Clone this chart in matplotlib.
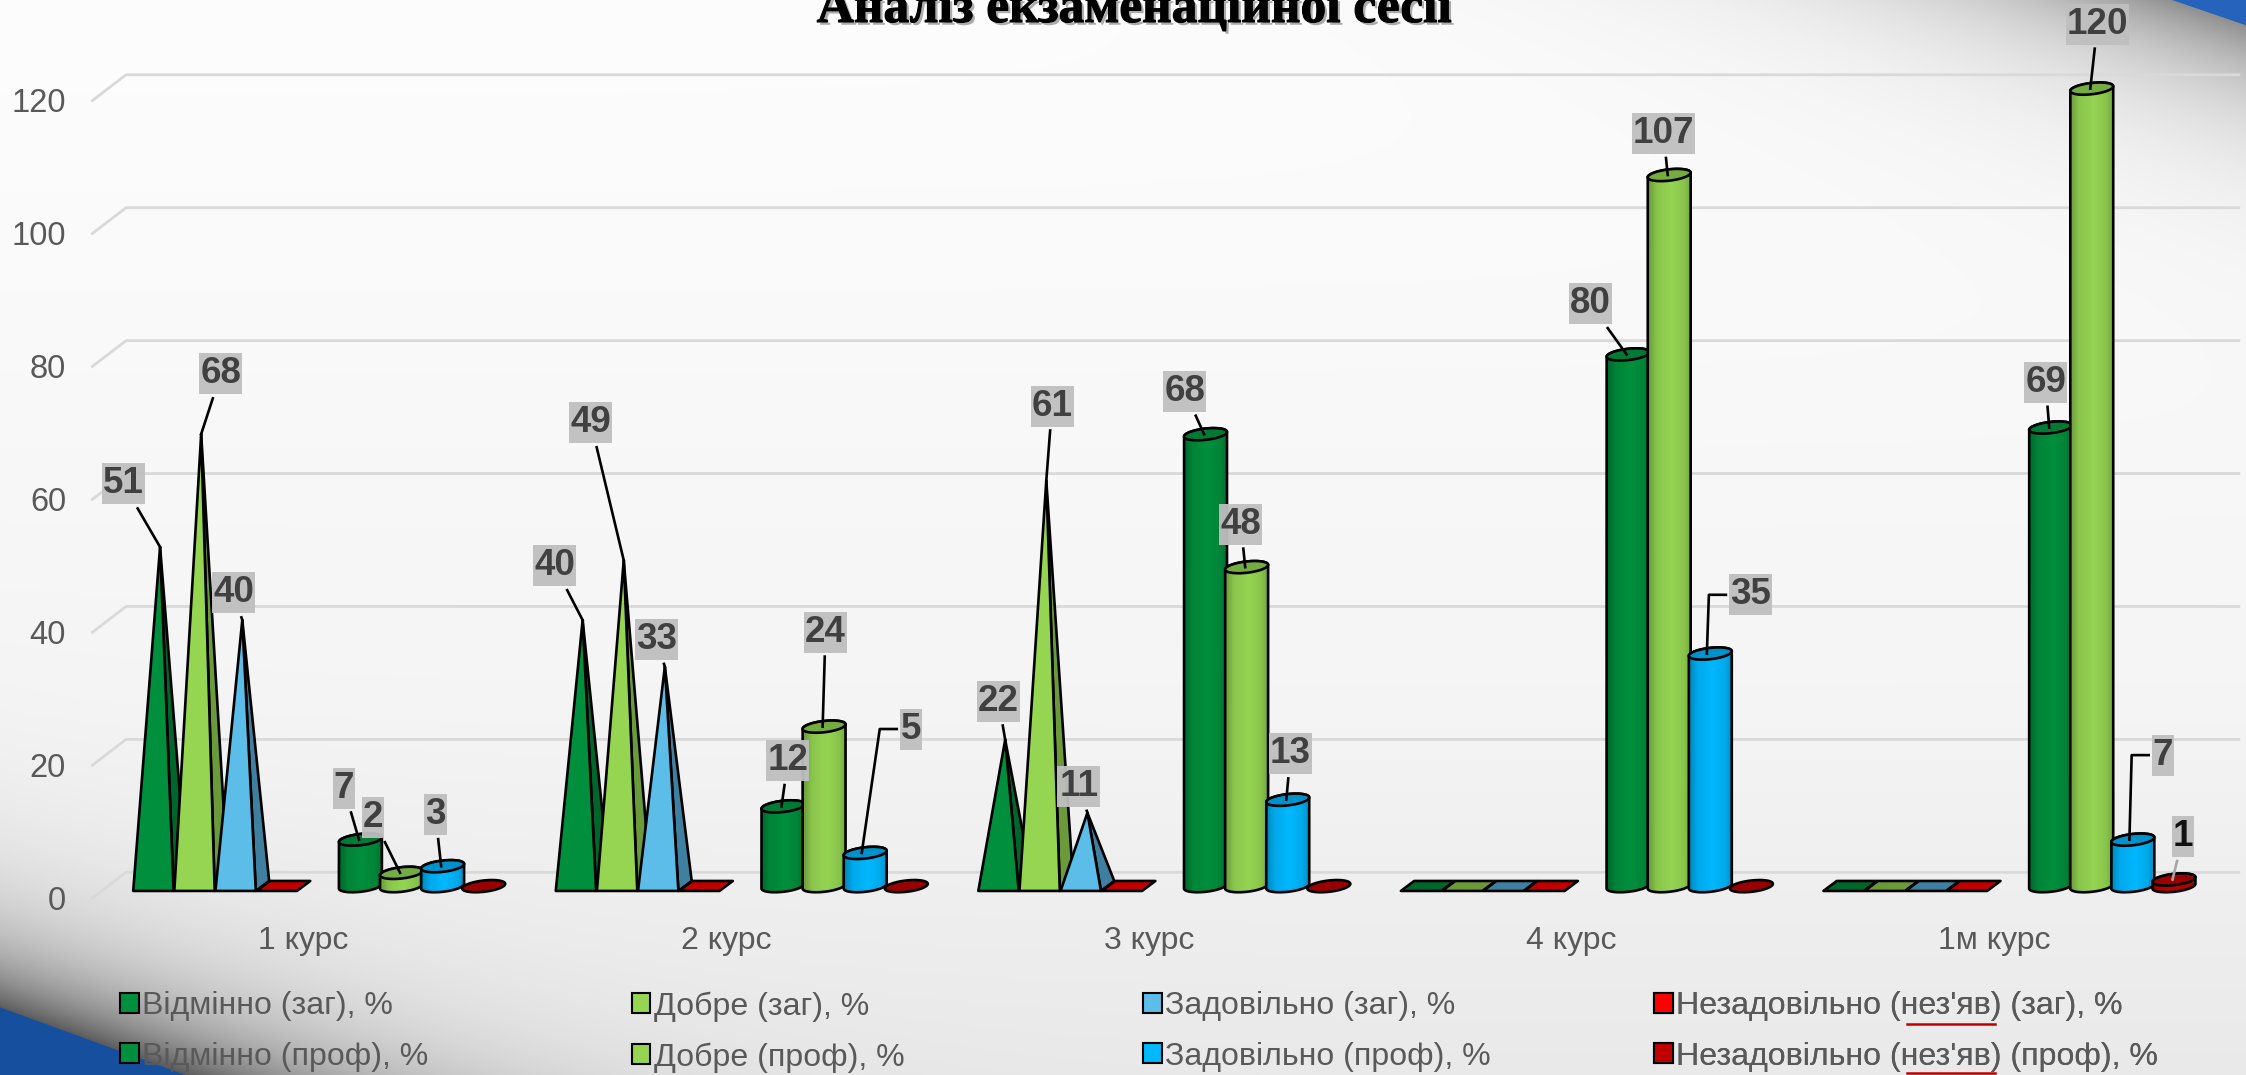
import numpy as np
import matplotlib
matplotlib.use("Agg")
import matplotlib.pyplot as plt
from matplotlib.patches import Polygon, Patch, Rectangle
from matplotlib.lines import Line2D
from matplotlib.transforms import Affine2D, IdentityTransform
import matplotlib.patheffects as pe

# ---------- data ----------
categories = ["1 курс", "2 курс", "3 курс", "4 курс", "1м курс"]
excellent_all = [51, 40, 22, 0, 0]
good_all = [68, 49, 61, 0, 0]
satisf_all = [40, 33, 11, 0, 0]
fail_all = [0, 0, 0, 0, 0]
excellent_prof = [7, 12, 68, 80, 69]
good_prof = [2, 24, 48, 107, 120]
satisf_prof = [3, 5, 13, 35, 7]
fail_prof = [0, 0, 0, 0, 1]
yticks = [0, 20, 40, 60, 80, 100, 120]

names_all = ["Відмінно (заг), %", "Добре (заг), %", "Задовільно (заг), %", "Незадовільно (нез'яв) (заг), %"]
names_prof = ["Відмінно (проф), %", "Добре (проф), %", "Задовільно (проф), %", "Незадовільно (нез'яв) (проф), %"]

# ---------- style ----------
W, H = 2246, 1075
S = 2246 / 1568  # px per unit of the shrunk reference
FONT = "Liberation Sans"
TXT = "#595959"
pyr_front = ["#008F3D", "#95D552", "#5BBDE8", "#FF0000"]
pyr_side = ["#00662B", "#6A9A3A", "#3F7F9F", "#C00000"]
cyl_col = ["#008F3D", "#95D552", "#00B8FF", "#C00000"]
cyl_top = ["#007A34", "#74AC42", "#0092CC", "#990000"]
SLOT = 28.7 / 295
W_BAR = 28.2 / 295
W_CYL = 30.0 / 295
CYL_SHIFT = 1.0 / 295
X_START = -119.0 / 295
DX, DY = 9.3 / 295, 1.5     # depth of the 3-D floor
BACK_X, BACK_Y = 23.5 / 295, 2.8
FRONT_Y = -1.08

fig = plt.figure(figsize=(W / 100, H / 100), dpi=100)

# ---------- slide background ----------
bg = fig.add_axes([0, 0, 1, 1], zorder=-1)
bg.set_axis_off()
yy, xx = np.mgrid[0:H, 0:W].astype(float)
base = np.interp(yy, [0, 300, 700, 1075], [0.992, 0.98, 0.96, 0.915])
nrm = np.cos(np.arctan(0.345))
d_bl = ((yy - 1007) - 0.365 * xx) * -1 * nrm   # positive above the blue corner, bottom left
d_tr = ((yy - 0) - 0.342 * (xx - 2173)) * nrm  # positive below the blue corner, top right
dark = 0.56 * np.exp(-np.clip(d_bl, 0, None) / 62) + 0.43 * np.exp(-np.clip(d_tr, 0, None) / 72)
grey = np.clip(base - dark, 0, 1)
rgb = np.dstack([grey, grey, grey])
blue_bl = np.array([0.09, 0.31, 0.62])
blue_tr = np.array([0.15, 0.39, 0.74])
for d, blue in ((d_bl, blue_bl), (d_tr, blue_tr)):
    m = np.clip(0.5 - d, 0, 1)[..., None]
    rgb = rgb * (1 - m) + blue * m
bg.imshow(rgb, aspect="auto", interpolation="nearest")

# ---------- main axes ----------
ax = fig.add_axes([64.5 * S / W, 1 - 627 * S / H, 1475 * S / W, 627 * S / H], zorder=1)
ax.patch.set_visible(False)
ax.set_xlim(-0.5, 4.5)
ax.set_ylim(FRONT_Y, 622 / 4.64)
for s in ax.spines.values():
    s.set_visible(False)

ax.set_xticks(range(len(categories)))
ax.set_xticklabels(categories, family=FONT, fontsize=23, color=TXT)
ax.set_yticks(yticks)
ax.set_yticklabels([str(v) for v in yticks], family=FONT, fontsize=23.5, color=TXT)
ax.tick_params(axis="both", length=0)
ax.tick_params(axis="x", pad=20)
ax.tick_params(axis="y", pad=19)
for lbl in ax.get_yticklabels():
    lbl.set_transform(lbl.get_transform() + Affine2D().translate(0, -7))

# walls
for v in yticks:
    ax.plot([-0.5, -0.5 + BACK_X, 4.5 + BACK_X], [v + FRONT_Y, v + BACK_Y, v + BACK_Y],
            color="#D9D9D9", lw=2.0, clip_on=False, zorder=1, solid_joinstyle="miter")

EDGE = dict(edgecolor="#000000", linewidth=1.9, joinstyle="round")


def draw_pyramid(x0, v, i, z):
    a, b = x0, x0 + W_BAR
    if v == 0:
        ax.add_patch(Polygon([(a, 0), (b, 0), (b + DX, DY), (a + DX, DY)],
                             facecolor=pyr_side[i], zorder=z, **EDGE))
        return
    apex = (x0 + (W_BAR + DX) / 2, v + DY / 2)
    ax.add_patch(Polygon([(b, 0), (b + DX, DY), apex], facecolor=pyr_side[i], zorder=z, **EDGE))
    ax.add_patch(Polygon([(a, 0), (b, 0), apex], facecolor=pyr_front[i], zorder=z, **EDGE))


def draw_cylinder(x0, v, i, z):
    cx = x0 + W_BAR / 2 + CYL_SHIFT
    r, b, k, c = W_CYL / 2, 0.85, 0.35, 0.72
    t = np.linspace(0, 2 * np.pi, 73)
    ell = lambda y: np.column_stack([cx + r * np.cos(t), y + b * np.sin(t) + k * np.cos(t)])
    if v == 0:
        ax.add_patch(Polygon(ell(c), facecolor=cyl_top[i], zorder=z, **EDGE))
        return
    low, top = ell(c), ell(v + c)
    lower = t >= np.pi
    body = np.vstack([low[lower], top[~lower][:]])
    patch = Polygon(body, facecolor="none", zorder=z + 0.002, **EDGE)
    ax.add_patch(patch)
    col = np.array(matplotlib.colors.to_rgb(cyl_col[i]))
    shade = np.interp(np.linspace(0, 1, 64), [0, 0.2, 0.55, 0.85, 1], [0.72, 0.92, 1.0, 0.92, 0.78])
    img = (col[None, :] * shade[:, None])[None, :, :]
    im = ax.imshow(img, extent=(cx - r, cx + r, -1, v + 3), origin="lower", aspect="auto",
                   interpolation="bilinear", zorder=z + 0.001)
    im.set_clip_path(patch)
    ax.add_patch(Polygon(top, facecolor=cyl_top[i], zorder=z + 0.003, **EDGE))


all_series = [excellent_all, good_all, satisf_all, fail_all]
prof_series = [excellent_prof, good_prof, satisf_prof, fail_prof]
z = 2.0
for g in range(len(categories)):
    x_g = g + X_START
    for i, ser in enumerate(all_series):
        draw_pyramid(x_g + i * SLOT, ser[g], i, z)
        z += 0.01
    for i, ser in enumerate(prof_series):
        draw_cylinder(x_g + (i + 5) * SLOT, ser[g], i, z)
        z += 0.01

# ---------- data labels (offsets from the mark's top, in shrunk-reference px) ----------
label_offsets = {
    ("a", 0): [(-25.6, 44), (-19.6, 38), (-4.6, 27)],
    ("a", 1): [(13.7, 42), (-23, 96), (4, 52)],
    ("a", 2): [(-6, 19), (-6, 19), (-6, 18.5)],
    ("p", 0): [(-10.5, 36), (4.5, 32), (-13.5, 30), (-25.5, 35.5), (-2.5, 31.6)],
    ("p", 1): [(-19, 38.5), (2, 66), (-3, 30), (-3, 29), (5, 45)],
    ("p", 2): [(-4, 36), (33, 86.5), (3, 32), (29, 41), (22, 59)],
    ("p", 3): [None, None, None, None, (7.4, 30)],
}
elbow = {(1, 2), (3, 2), (4, 2)}
HALF_H = 20.5
DIG_W = 20.5

for (kind, i), offs in label_offsets.items():
    ser = (all_series if kind == "a" else prof_series)[i]
    for g, off in enumerate(offs):
        if off is None or ser[g] == 0:
            continue
        v = ser[g]
        if kind == "a":
            xy = (g + X_START + i * SLOT + (W_BAR + DX) / 2, v + DY / 2)
        else:
            xy = (g + X_START + (i + 5) * SLOT + W_BAR / 2, v + 0.72)
        px = ax.transData.transform(xy)
        cx, cy = px[0] + off[0] * S, px[1] + off[1] * S
        hw = DIG_W * len(str(v)) / 2 + 1
        if kind == "p" and (g, i) in elbow:
            pts = [(cx - hw - 3, cy), (cx - hw - 20, cy), (px[0] - 2, px[1])]
        else:
            dx_, dy_ = px[0] - cx, px[1] - cy
            f = min((hw + 4) / max(abs(dx_), 1e-6), (HALF_H + 4) / max(abs(dy_), 1e-6))
            pts = [(cx + dx_ * f, cy + dy_ * f), (px[0], px[1])]
        lc = "#A6A6A6" if v == 1 else "#000000"
        ax.add_line(Line2D(*zip(*pts), color=lc, lw=1.9, transform=IdentityTransform(),
                           clip_on=False, zorder=8))
        ax.add_patch(Rectangle((cx - hw, cy - HALF_H), 2 * hw, 2 * HALF_H, fc="#BFBFBF", ec="none",
                               alpha=0.95, transform=IdentityTransform(), clip_on=False, zorder=9))
        ax.annotate(str(v), xy=xy, xytext=(off[0] * S, off[1] * S), textcoords="offset pixels",
                    ha="center", va="center", family=FONT, fontweight="bold", fontsize=26.5,
                    color="#111111" if v == 1 else "#404040", zorder=9.5,
                    annotation_clip=False)

# ---------- legend ----------
for c in range(4):
    handles = [Patch(facecolor=pyr_front[c], edgecolor="k", lw=1.5),
               Patch(facecolor=cyl_col[c], edgecolor="k", lw=1.5)]
    x_leg = (84 + 357 * c) * S / W
    leg = ax.legend(handles, [names_all[c], names_prof[c]],
                    loc="upper left", bbox_to_anchor=(x_leg, 1 - 692 * S / H),
                    bbox_transform=fig.transFigure, frameon=False, borderpad=0, borderaxespad=0,
                    handlelength=0.58, handleheight=0.58, handletextpad=0.1, labelspacing=0.64,
                    prop=dict(family=FONT, size=23.1), labelcolor=TXT)
    ax.add_artist(leg)

for y in (715, 749):
    fig.add_artist(Line2D([1331 * S / W, 1393 * S / W], [1 - y * S / H] * 2,
                          color="#C00000", lw=1.8, zorder=5))

# ---------- title, cut by the top edge as on the slide ----------
fig.text(792 * S / W, 1 - 22 / H, "Аналіз екзаменаційної сесії", ha="center", va="baseline",
         family="Liberation Serif", fontweight="bold", fontsize=37, color="#000000", zorder=10,
         path_effects=[pe.SimplePatchShadow(offset=(2, -2), shadow_rgbFace="#777777", alpha=0.6),
                       pe.withStroke(linewidth=0.8, foreground="#000000")])

fig.savefig("out.png", dpi=100)
